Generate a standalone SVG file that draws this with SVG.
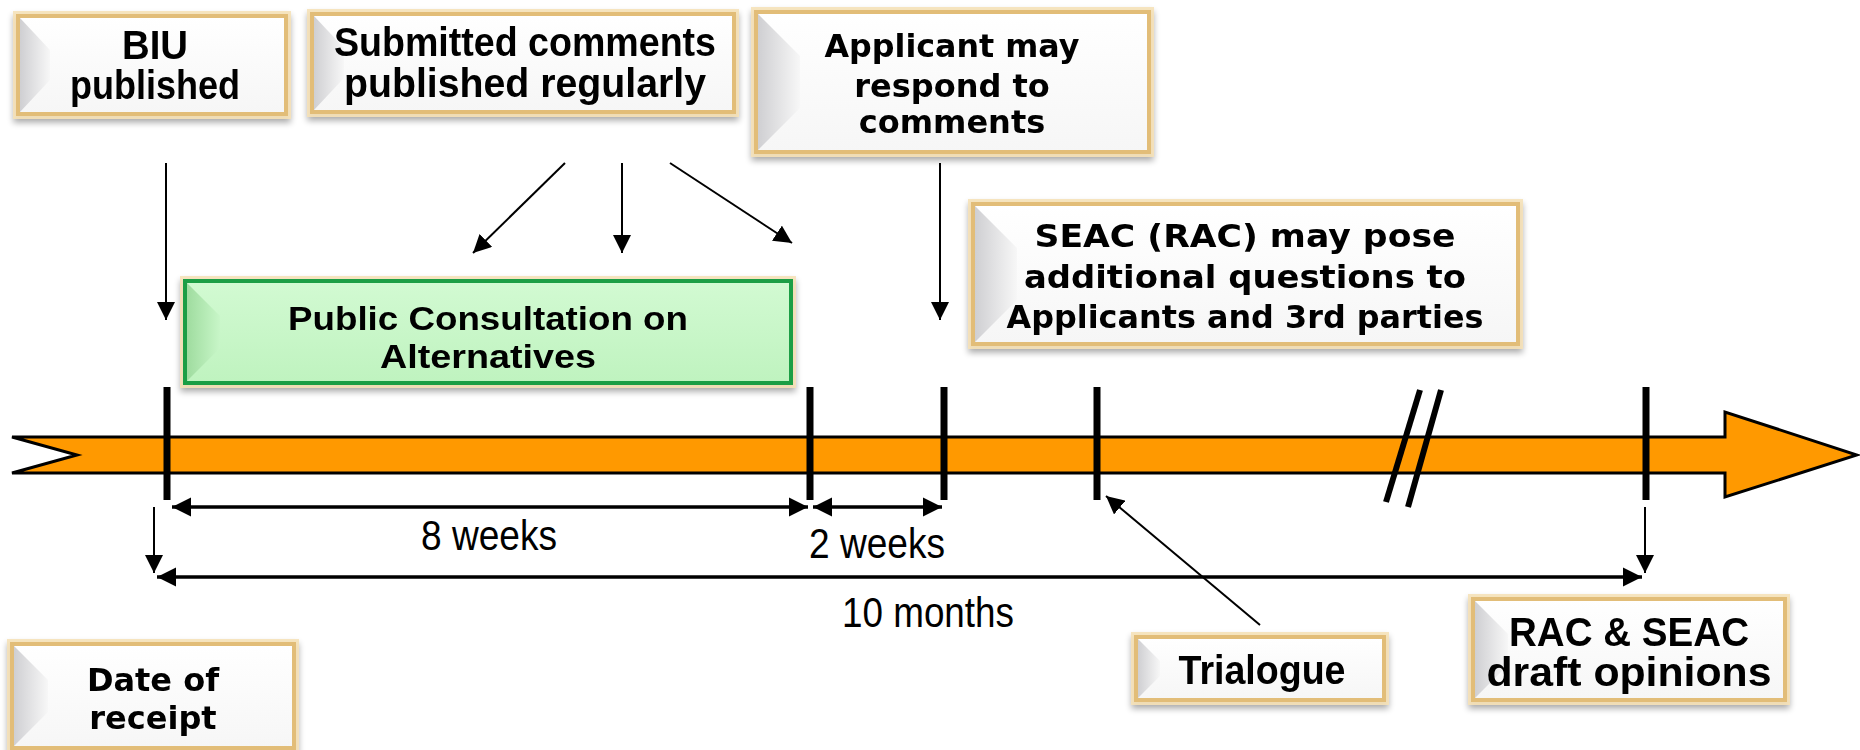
<svg xmlns="http://www.w3.org/2000/svg" width="1860" height="750" viewBox="0 0 1860 750">
<style>
.box{fill:url(#gw);stroke:#e2bd78;stroke-width:4}
.glow{fill:none;stroke:#f5dfb0;stroke-width:10;opacity:0.8}
.gbox{fill:url(#gg);stroke:#1e9e45;stroke-width:4}
.bev{fill:url(#gb)}
.gbev{fill:url(#ggb)}
.t{font-family:"DejaVu Sans",Verdana,sans-serif;font-weight:bold;font-size:32px;fill:#000;text-anchor:middle}
.tn{font-family:"Liberation Sans",Arial,sans-serif;font-weight:bold;font-size:40px;fill:#000;text-anchor:middle}
.dim{font-family:"Liberation Sans",Arial,sans-serif;font-size:42px;fill:#000;text-anchor:middle}
.tick{stroke:#000;stroke-width:7;fill:none}
.ln{stroke:#000;stroke-width:2;fill:none}
.ln3{stroke:#000;stroke-width:3.5;fill:none}
</style>
<defs>
<linearGradient id="gw" x1="0" y1="0" x2="0" y2="1"><stop offset="0" stop-color="#ffffff"/><stop offset="1" stop-color="#f6f6f6"/></linearGradient>
<linearGradient id="gb" x1="0" y1="0" x2="1" y2="0"><stop offset="0" stop-color="#cfcfd2"/><stop offset="1" stop-color="#f7f7f7"/></linearGradient>
<linearGradient id="gg" x1="0" y1="0" x2="0" y2="1"><stop offset="0" stop-color="#d2fad2"/><stop offset="1" stop-color="#bff3bf"/></linearGradient>
<linearGradient id="ggb" x1="0" y1="0" x2="1" y2="0"><stop offset="0" stop-color="#9fdc9f"/><stop offset="1" stop-color="#c8f6c8"/></linearGradient>
<filter id="sh" x="-10%" y="-20%" width="120%" height="150%"><feGaussianBlur in="SourceAlpha" stdDeviation="3"/><feOffset dx="0" dy="4"/><feComponentTransfer><feFuncA type="linear" slope="0.35"/></feComponentTransfer><feMerge><feMergeNode/><feMergeNode in="SourceGraphic"/></feMerge></filter>
<marker id="ah2" viewBox="0 0 10 10" refX="10" refY="5" markerWidth="5.5" markerHeight="5.5" orient="auto-start-reverse"><path d="M0,0 L10,5 L0,10 z" fill="#000"/></marker>
<marker id="ah3" viewBox="0 0 10 10" refX="10" refY="5" markerWidth="9" markerHeight="9" orient="auto-start-reverse"><path d="M0,0 L10,5 L0,10 z" fill="#000"/></marker>
</defs>

<g id="timeline">
<polygon points="12,437 1725,437 1725,412 1857,455 1725,497 1725,473 12,473 77,455" fill="#ff9900" stroke="#000" stroke-width="3" stroke-linejoin="miter"/>
<line class="tick" x1="167" y1="387" x2="167" y2="500"/>
<line class="tick" x1="810" y1="387" x2="810" y2="500"/>
<line class="tick" x1="944" y1="387" x2="944" y2="500"/>
<line class="tick" x1="1097" y1="387" x2="1097" y2="500"/>
<line class="tick" x1="1646" y1="387" x2="1646" y2="500"/>
<line stroke="#000" stroke-width="6" x1="1420" y1="390" x2="1386" y2="502"/>
<line stroke="#000" stroke-width="6" x1="1441" y1="390" x2="1408" y2="507"/>
</g>

<g id="biu" filter="url(#sh)">
<rect class="glow" x="18" y="16" width="268" height="98"/>
<rect class="box" x="18" y="16" width="268" height="98"/>
<polygon class="bev" points="20,18 50,50 50,80 20,112"/>
<text class="tn" x="155" y="59" textLength="66" lengthAdjust="spacingAndGlyphs">BIU</text>
<text class="tn" x="155" y="99" textLength="170" lengthAdjust="spacingAndGlyphs">published</text>
</g>

<g id="submitted" filter="url(#sh)">
<rect class="glow" x="312" y="14" width="422" height="98"/>
<rect class="box" x="312" y="14" width="422" height="98"/>
<polygon class="bev" points="314,16 344,48 344,78 314,110"/>
<text class="tn" x="525" y="56" textLength="382" lengthAdjust="spacingAndGlyphs">Submitted comments</text>
<text class="tn" x="525" y="97" textLength="362" lengthAdjust="spacingAndGlyphs">published regularly</text>
</g>

<g id="applicant" filter="url(#sh)">
<rect class="glow" x="756" y="12" width="393" height="140"/>
<rect class="box" x="756" y="12" width="393" height="140"/>
<polygon class="bev" points="758,14 800,56 800,108 758,150"/>
<text class="t" x="952" y="57" textLength="255" lengthAdjust="spacingAndGlyphs">Applicant may</text>
<text class="t" x="952" y="97">respond to</text>
<text class="t" x="952" y="133">comments</text>
</g>

<g id="seac" filter="url(#sh)">
<rect class="glow" x="973" y="204" width="545" height="140"/>
<rect class="box" x="973" y="204" width="545" height="140"/>
<polygon class="bev" points="975,206 1017,248 1017,300 975,342"/>
<text class="t" x="1245" y="247" textLength="421" lengthAdjust="spacingAndGlyphs">SEAC (RAC) may pose</text>
<text class="t" x="1245" y="288" textLength="442" lengthAdjust="spacingAndGlyphs">additional questions to</text>
<text class="t" x="1245" y="328" textLength="477" lengthAdjust="spacingAndGlyphs">Applicants and 3rd parties</text>
</g>

<g id="consultation" filter="url(#sh)">
<rect class="glow" x="185" y="281" width="606" height="102"/>
<rect class="gbox" x="185" y="281" width="606" height="102"/>
<polygon class="gbev" points="187,283 220,316 220,348 187,381"/>
<text class="tn" x="488" y="330" style="font-size:34px" textLength="400" lengthAdjust="spacingAndGlyphs">Public Consultation on</text>
<text class="tn" x="488" y="368" style="font-size:34px" textLength="216" lengthAdjust="spacingAndGlyphs">Alternatives</text>
</g>

<g id="receipt" filter="url(#sh)">
<rect class="glow" x="12" y="644" width="282" height="104"/>
<rect class="box" x="12" y="644" width="282" height="104"/>
<polygon class="bev" points="14,646 48,680 48,712 14,746"/>
<text class="t" x="153" y="691">Date of</text>
<text class="t" x="153" y="729">receipt</text>
</g>

<g id="trialogue" filter="url(#sh)">
<rect class="glow" x="1136" y="637" width="248" height="63"/>
<rect class="box" x="1136" y="637" width="248" height="63"/>
<polygon class="bev" points="1138,639 1160,661 1160,676 1138,698"/>
<text class="tn" x="1262" y="684" textLength="167" lengthAdjust="spacingAndGlyphs">Trialogue</text>
</g>

<g id="opinions" filter="url(#sh)">
<rect class="glow" x="1473" y="599" width="312" height="101"/>
<rect class="box" x="1473" y="599" width="312" height="101"/>
<polygon class="bev" points="1475,601 1508,634 1508,665 1475,698"/>
<text class="tn" x="1629" y="646" textLength="240" lengthAdjust="spacingAndGlyphs">RAC &amp; SEAC</text>
<text class="tn" x="1629" y="686" textLength="285" lengthAdjust="spacingAndGlyphs">draft opinions</text>
</g>

<g id="connectors">
<line class="ln" x1="166" y1="163" x2="166" y2="320" marker-end="url(#ah3)"/>
<line class="ln" x1="940" y1="163" x2="940" y2="320" marker-end="url(#ah3)"/>
<line class="ln" x1="565" y1="163" x2="473" y2="253" marker-end="url(#ah3)"/>
<line class="ln" x1="622" y1="163" x2="622" y2="253" marker-end="url(#ah3)"/>
<line class="ln" x1="670" y1="163" x2="792" y2="243" marker-end="url(#ah3)"/>
<line class="ln" x1="154" y1="507" x2="154" y2="573" marker-end="url(#ah3)"/>
<line class="ln" x1="1645" y1="507" x2="1645" y2="573" marker-end="url(#ah3)"/>
<line class="ln" x1="1260" y1="625" x2="1106" y2="496" marker-end="url(#ah3)"/>
<line class="ln3" x1="172" y1="507" x2="808" y2="507" marker-start="url(#ah2)" marker-end="url(#ah2)"/>
<line class="ln3" x1="813" y1="507" x2="942" y2="507" marker-start="url(#ah2)" marker-end="url(#ah2)"/>
<line class="ln3" x1="157" y1="577" x2="1642" y2="577" marker-start="url(#ah2)" marker-end="url(#ah2)"/>
</g>

<g id="labels">
<text class="dim" x="489" y="550" textLength="136" lengthAdjust="spacingAndGlyphs">8 weeks</text>
<text class="dim" x="877" y="558" textLength="136" lengthAdjust="spacingAndGlyphs">2 weeks</text>
<text class="dim" x="928" y="627" textLength="172" lengthAdjust="spacingAndGlyphs">10 months</text>
</g>
</svg>
